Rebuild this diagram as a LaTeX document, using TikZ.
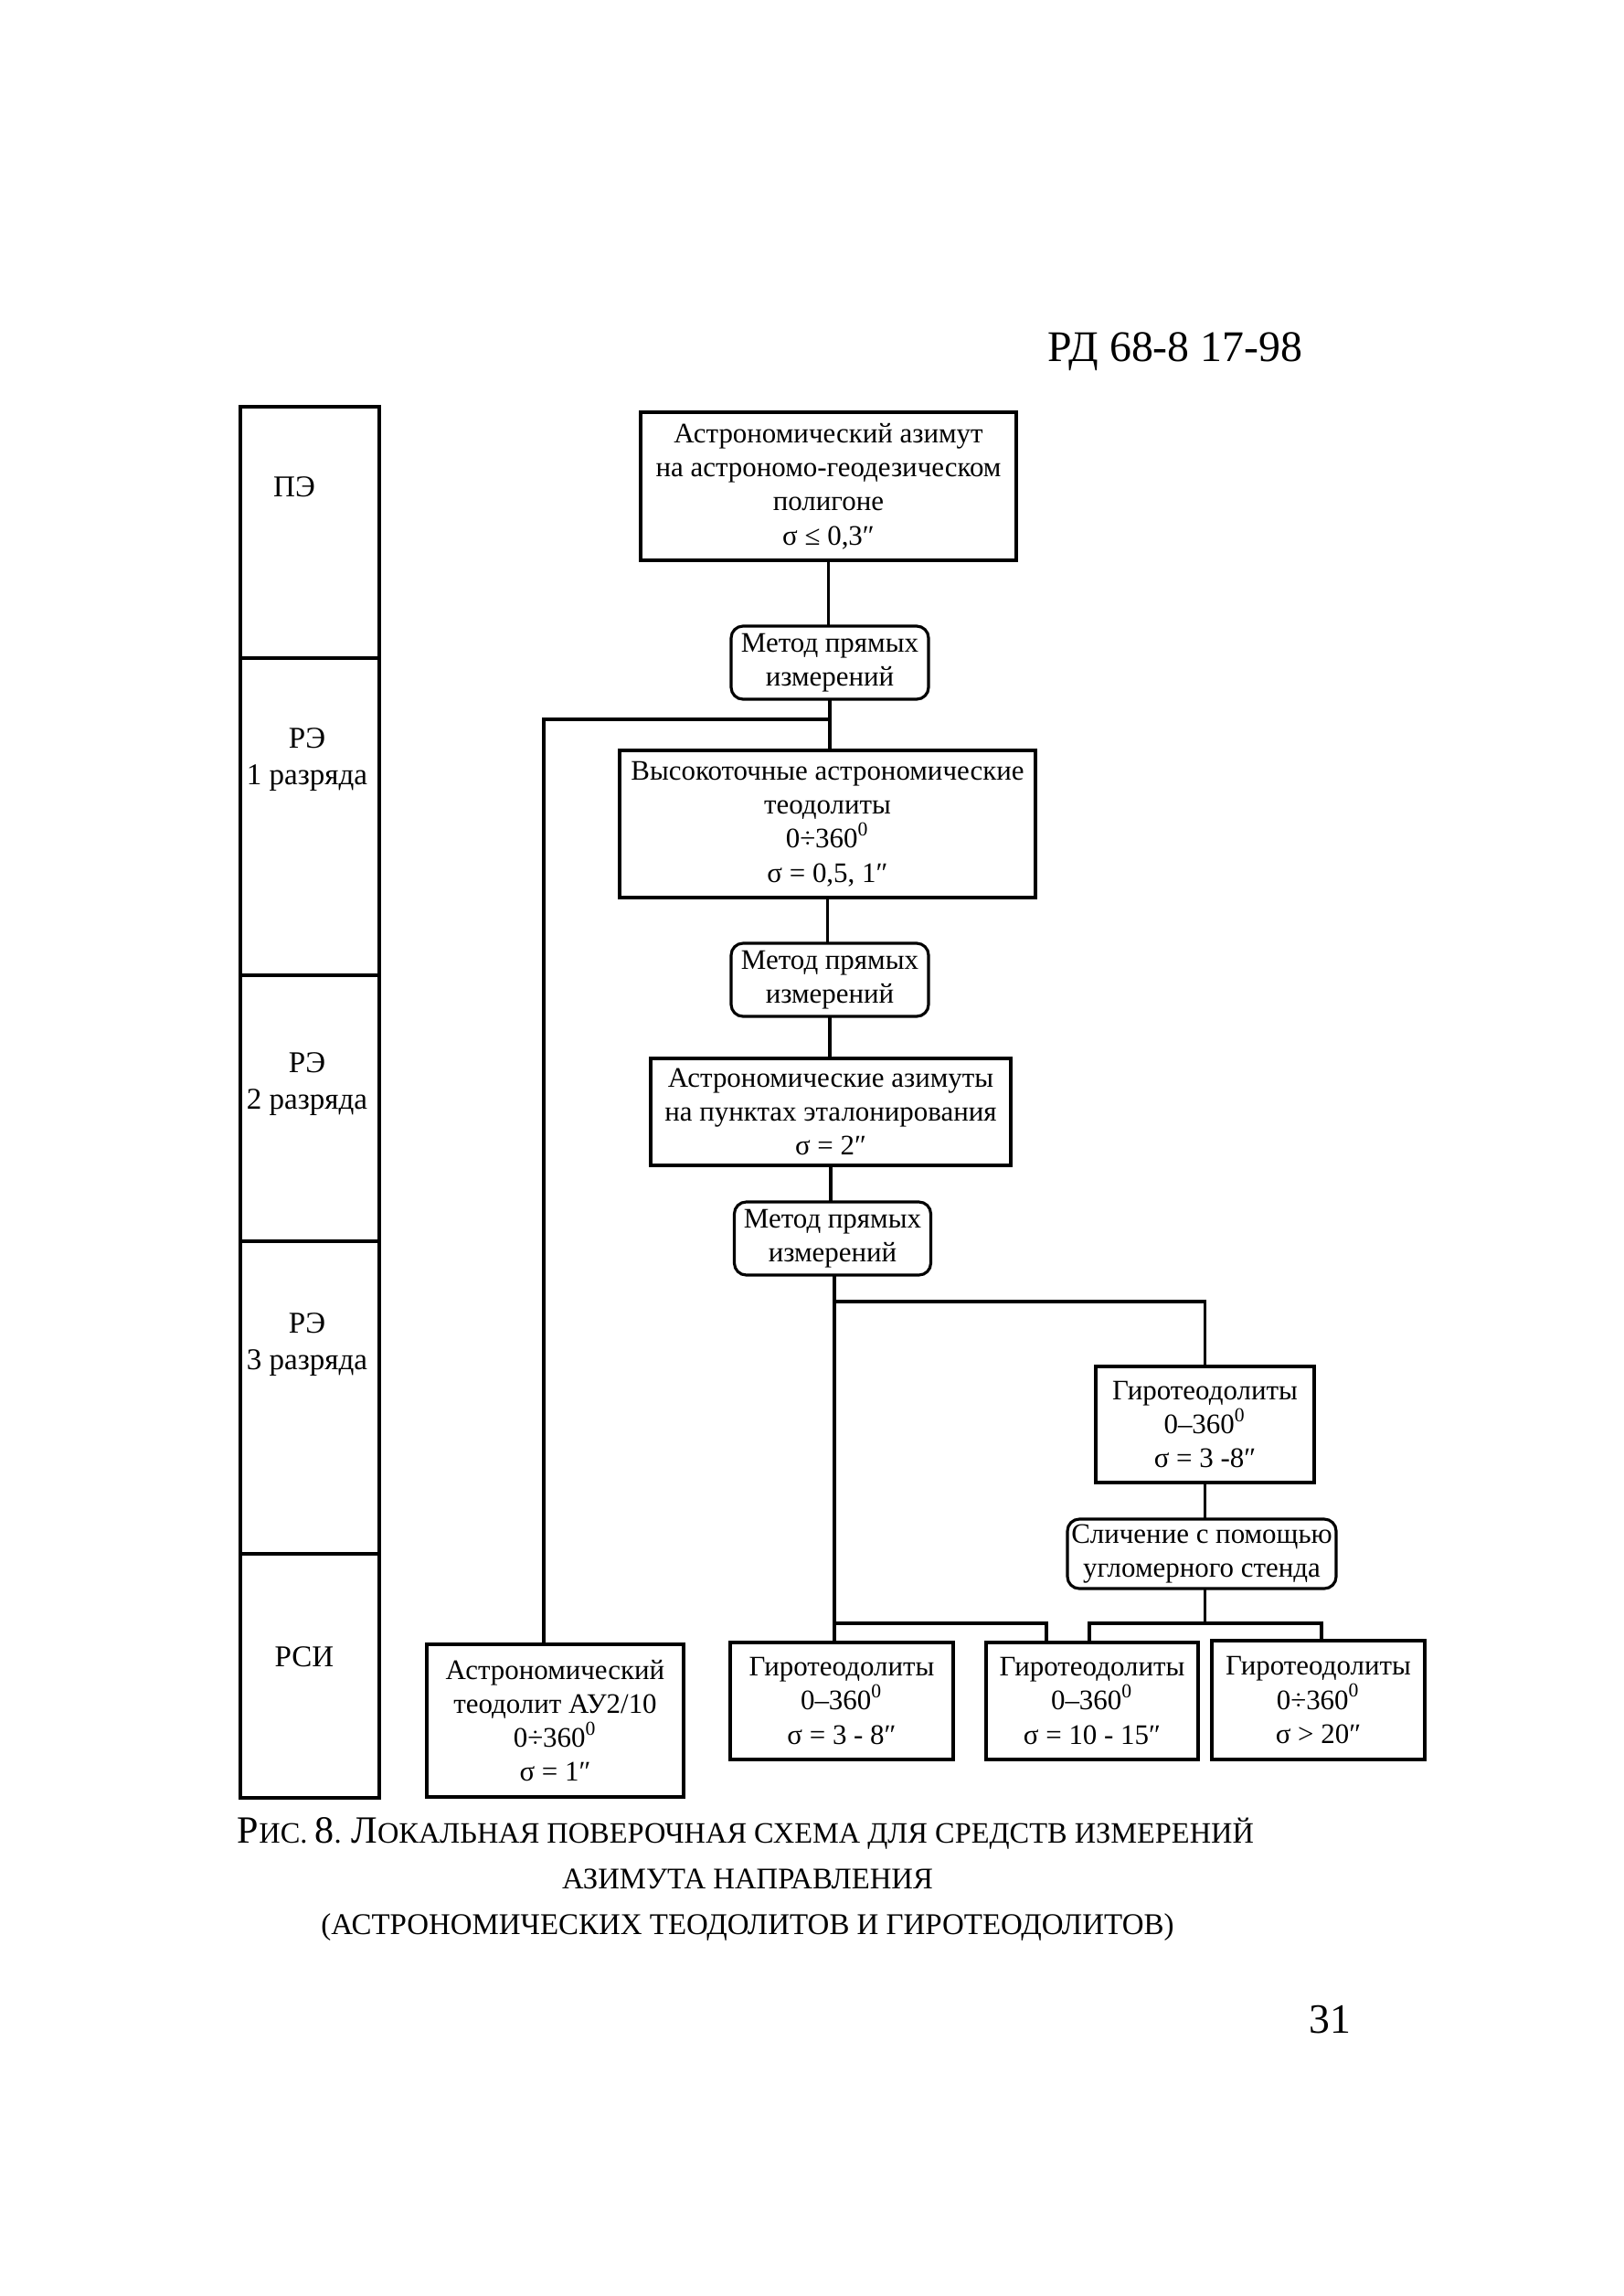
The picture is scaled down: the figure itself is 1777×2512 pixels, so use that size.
\documentclass[tikz,border=0pt]{standalone}
\usepackage{fontspec}
\setmainfont{Liberation Serif}
\usetikzlibrary{calc}
\newcommand\capbig[1]{{\fontsize{11.7}{12}\selectfont #1}}
\begin{document}
\begin{tikzpicture}[x=0.1mm,y=-0.1mm,
  every node/.style={inner sep=0pt, outer sep=0pt},
  txt/.style={font=\fontsize{8.8}{10.6}\selectfont, align=center},
  lbl/.style={font=\fontsize{9.4}{11.4}\selectfont, align=center},
  blk/.style={txt, draw, line width=0.9pt},
  meth/.style={blk, rounded corners=1.3mm},
  cell/.style={draw, line width=1.1pt, minimum width=15.2mm},
  conn/.style={line width=0.9pt},
  hdrtxt/.style={font=\fontsize{13.6}{14}\selectfont, anchor=base},
  pgtxt/.style={font=\fontsize{13}{13}\selectfont, anchor=base},
  captxt/.style={font=\fontsize{9}{10}\selectfont, anchor=base}
]
\useasboundingbox (0,0) rectangle (1777,2512);

% header and page number
\node[hdrtxt] (hdr) at (1286,395) {РД 68-8 17-98};
\node[pgtxt] (pg) at (1455,2224) {31};

% left column of levels
\node[cell, minimum height=27.5mm] (c1) at (339,582.5) {};
\node[cell, minimum height=34.7mm] (c2) at (339,893.5) {};
\node[cell, minimum height=29.1mm] (c3) at (339,1212.5) {};
\node[cell, minimum height=34.2mm] (c4) at (339,1529) {};
\node[cell, minimum height=26.7mm] (c5) at (339,1833.5) {};
\node[lbl] (l1) at (322,533) {ПЭ};
\node[lbl] (l2) at (336,831) {РЭ\\1 разряда};
\node[lbl] (l3) at (336,1186) {РЭ\\2 разряда};
\node[lbl] (l4) at (336,1471) {РЭ\\3 разряда};
\node[lbl] (l5) at (333,1813) {РСИ};

% main chain
\node[blk, minimum width=41.1mm, minimum height=16.2mm] (top) at (906.5,532)
  {Астрономический азимут\\на астрономо-геодезическом\\полигоне\\σ ≤ 0,3″};
\node[meth, minimum width=21.6mm, minimum height=8.0mm] (m1) at (908,725)
  {Метод прямых\\измерений};
\node[blk, minimum width=45.5mm, minimum height=16.1mm] (b2) at (905.5,901.5)
  {Высокоточные астрономические\\теодолиты\\0÷360\textsuperscript{0}\\σ = 0,5, 1″};
\node[meth, minimum width=21.6mm, minimum height=8.0mm] (m2) at (908,1072)
  {Метод прямых\\измерений};
\node[blk, minimum width=39.4mm, minimum height=11.7mm] (b3) at (909,1216.5)
  {Астрономические азимуты\\на пунктах эталонирования\\σ = 2″};
\node[meth, minimum width=21.5mm, minimum height=8.0mm] (m3) at (911,1355)
  {Метод прямых\\измерений};
\node[blk, minimum width=23.9mm, minimum height=12.7mm] (b4) at (1318.5,1558.5)
  {Гиротеодолиты\\0–360\textsuperscript{0}\\σ = 3 -8″};
\node[meth, minimum width=29.4mm, minimum height=7.6mm] (cmp) at (1315,1700)
  {Сличение с помощью\\угломерного стенда};

% bottom row
\node[blk, minimum width=28.1mm, minimum height=16.7mm] (au) at (607.5,1882.5)
  {Астрономический\\теодолит АУ2/10\\0÷360\textsuperscript{0}\\σ = 1″};
\node[blk, minimum width=24.4mm, minimum height=12.8mm] (g1) at (921,1861)
  {Гиротеодолиты\\0–360\textsuperscript{0}\\σ = 3 - 8″};
\node[blk, minimum width=23.2mm, minimum height=12.8mm] (g2) at (1195,1861)
  {Гиротеодолиты\\0–360\textsuperscript{0}\\σ = 10 - 15″};
\node[blk, minimum width=23.3mm, minimum height=13.0mm] (g3) at (1442.5,1860)
  {Гиротеодолиты\\0÷360\textsuperscript{0}\\σ > 20″};

% helper coordinates
\coordinate (y787) at (0,787);
\coordinate (y1424) at (0,1424);
\coordinate (y1776) at (0,1776);
\coordinate (x595) at (595,0);
\coordinate (x913) at (913,0);
\coordinate (x1145) at (1145,0);
\coordinate (x1192) at (1192,0);
\coordinate (x1446) at (1446,0);
\coordinate (j1) at (m1.south |- y787);
\coordinate (j3) at (x913 |- y1424);
\coordinate (j4) at (x913 |- y1776);
\coordinate (j5) at (b4.south |- y1776);

% connectors
\draw[conn] (top.south) -- (top.south |- m1.north);
\draw[conn] (m1.south) -- (m1.south |- b2.north);
\draw[conn] (j1) -| (x595 |- au.north);
\draw[conn] (b2.south) -- (b2.south |- m2.north);
\draw[conn] (m2.south) -- (m2.south |- b3.north);
\draw[conn] (b3.south) -- (b3.south |- m3.north);
\draw[conn] (x913 |- m3.south) -- (x913 |- g1.north);
\draw[conn] (j3) -| (b4.north);
\draw[conn] (j4) -| (x1145 |- g2.north);
\draw[conn] (b4.south) -- (b4.south |- cmp.north);
\draw[conn] (b4.south |- cmp.south) -- (j5);
\draw[conn] (x1192 |- g2.north) |- (x1446 |- y1776) -- (x1446 |- g3.north);

% caption
\node[captxt] (cap1) at (816,2016) {\resizebox{111.2mm}{!}{\capbig{Р}ИС. \capbig{8}. \capbig{Л}ОКАЛЬНАЯ ПОВЕРОЧНАЯ СХЕМА ДЛЯ СРЕДСТВ ИЗМЕРЕНИЙ}};
\node[captxt] (cap2) at (818,2066) {\resizebox{40.6mm}{!}{АЗИМУТА НАПРАВЛЕНИЯ}};
\node[captxt] (cap3) at (818,2116) {\resizebox{93.3mm}{!}{(АСТРОНОМИЧЕСКИХ ТЕОДОЛИТОВ И ГИРОТЕОДОЛИТОВ)}};
\end{tikzpicture}
\end{document}
